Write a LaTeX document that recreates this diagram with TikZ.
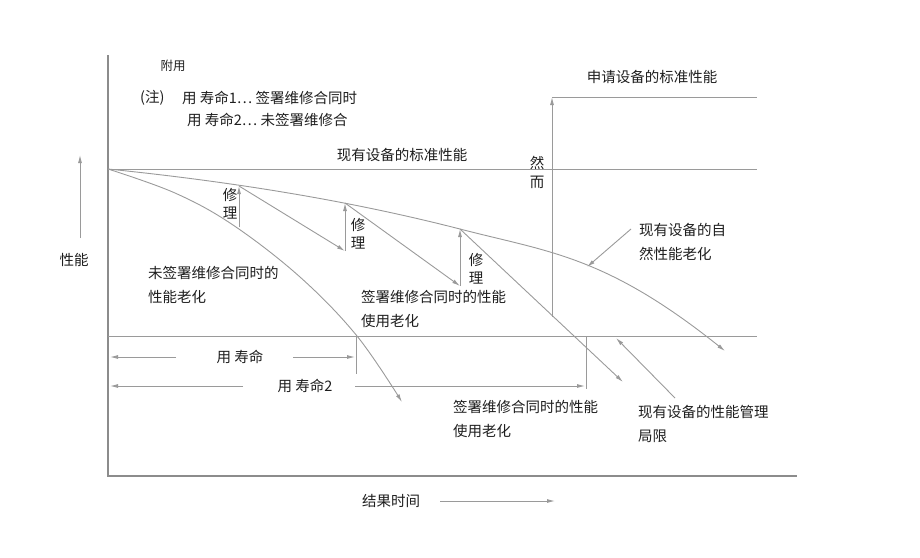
\documentclass[tikz,border=0pt]{standalone}
\usepackage{fontspec}
\setmainfont{Noto Sans CJK SC}
\usetikzlibrary{arrows.meta}
\definecolor{lgray}{HTML}{9A9A9A}
\definecolor{agray}{HTML}{8C8C8C}
\definecolor{txtc}{HTML}{1E1E1E}

\begin{document}
\begin{tikzpicture}[x=1pt,y=-1pt,
  txt/.style={font=\fontsize{14.5}{24}\selectfont, text=txtc, inner sep=0pt},
  lbl/.style={txt, anchor=west, align=left},
  rep/.style={txt, align=center, font=\fontsize{14.5}{18}\selectfont},
  ln/.style={draw=lgray, line width=0.9pt},
  arr/.style={ln, -{Latex[length=8pt,width=4pt]}},
  ax/.style={draw=agray, line width=2pt}
]
\useasboundingbox (0,0) rectangle (920,557);

% Axes
\coordinate (top) at (108,55);
\coordinate (orig) at (108,476);
\coordinate (xend) at (797,476);
\draw[ax] (top) -- (orig) -- (xend);

% Axis labels
\node[txt] (perf) at (74,260) {性能};
\coordinate (perfA) at (80,238);
\coordinate (perfB) at (80,155);
\draw[arr] (perfA) -- (perfB);
\node[txt] (time) at (391,501) {结果时间};
\coordinate (timeA) at (440,501);
\coordinate (timeB) at (555,501);
\draw[arr] (timeA) -- (timeB);

% Note
\node[txt, font=\fontsize{12.5}{13}\selectfont] (app) at (173,66) {附用};
\node[lbl] (note) at (140,98) {(注)};
\node[lbl] (note1) at (182,98) {用 寿命1… 签署维修合同时};
\node[lbl] (note2) at (187,120) {用 寿命2… 未签署维修合};

% Standard performance lines
\coordinate (s1) at (108,169);
\coordinate (s2) at (757,169);
\draw[ln] (s1) -- (s2);
\node[txt] (std) at (402,155) {现有设备的标准性能};
\coordinate (n1) at (552,97);
\coordinate (n2) at (757,97);
\draw[ln] (n1) -- (n2);
\node[txt] (newstd) at (652,77) {申请设备的标准性能};
\coordinate (up) at (552,317);
\draw[arr] (up) -- (n1);
\node[rep, font=\fontsize{14.5}{19}\selectfont] (but) at (537,172) {然\\而};

% Limit line
\coordinate (m1) at (108,336);
\coordinate (m2) at (757,336);
\draw[ln] (m1) -- (m2);

% Repair points
\coordinate (r1a) at (239,227);
\coordinate (r1b) at (239,186);
\coordinate (r2a) at (345,251);
\coordinate (r2b) at (345,203);
\coordinate (r3a) at (460,286);
\coordinate (r3b) at (460,229);
\coordinate (r4a) at (623,382);

% Natural aging
\coordinate (natEnd) at (725,351);
\draw[arr] (s1) .. controls (225,181) and (343,199) .. (r3b)
  .. controls (548,252) and (605,255) .. (natEnd);

% Without contract
\coordinate (ncEnd) at (402,402);
\draw[arr] plot[smooth, tension=0.6] coordinates {(s1) (175,193) (233,225) (300,277) (357,336) (ncEnd)};

% Repairs
\draw[arr] (r1a) -- (r1b);
\draw[arr] (r1b) -- (r2a);
\draw[arr] (r2a) -- (r2b);
\draw[arr] (r2b) -- (r3a);
\draw[arr] (r3a) -- (r3b);
\draw[arr] (r3b) -- (r4a);
\node[rep] (rep1) at (230,204) {修\\理};
\node[rep] (rep2) at (358,234) {修\\理};
\node[rep] (rep3) at (476,269) {修\\理};

% Curve labels
\node[lbl] (ncLbl) at (148,285) {未签署维修合同时的\\性能老化};
\node[lbl] (cLbl) at (361,309) {签署维修合同时的性能\\使用老化};
\node[lbl] (cLbl2) at (453,419) {签署维修合同时的性能\\使用老化};
\node[lbl] (natLbl) at (639,242) {现有设备的自\\然性能老化};
\node[lbl] (limLbl) at (638,424) {现有设备的性能管理\\局限};
\coordinate (natA) at (631,229);
\coordinate (natB) at (587,267);
\draw[arr] (natA) -- (natB);
\coordinate (limA) at (675,398);
\coordinate (limB) at (616,338);
\draw[arr] (limA) -- (limB);

% Service life 1
\node[txt] (life1) at (240,357) {用 寿命};
\coordinate (l1a) at (176,357);
\coordinate (l1b) at (110,357);
\coordinate (l1c) at (293,357);
\coordinate (l1d) at (355,357);
\draw[arr] (l1a) -- (l1b);
\draw[arr] (l1c) -- (l1d);
\coordinate (t1a) at (356,336);
\coordinate (t1b) at (356,374);
\draw[ln] (t1a) -- (t1b);

% Service life 2
\node[txt] (life2) at (305,386) {用 寿命2};
\coordinate (l2a) at (243,386);
\coordinate (l2b) at (110,386);
\coordinate (l2c) at (355,386);
\coordinate (l2d) at (585,386);
\draw[arr] (l2a) -- (l2b);
\draw[arr] (l2c) -- (l2d);
\coordinate (t2a) at (586,336);
\coordinate (t2b) at (586,389);
\draw[ln] (t2a) -- (t2b);
\end{tikzpicture}
\end{document}
